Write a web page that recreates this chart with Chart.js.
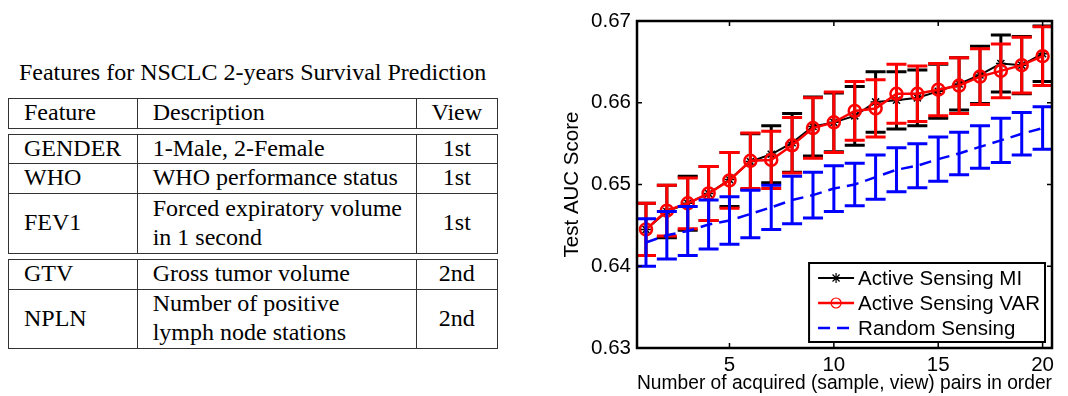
<!DOCTYPE html>
<html>
<head>
<meta charset="utf-8">
<script src="https://cdn.jsdelivr.net/npm/chart.js@4.4.1/dist/chart.umd.min.js"></script>
<style>
  body { margin: 0; background: #fff; width: 1068px; height: 396px; overflow: hidden; position: relative;
         font-family: "Liberation Serif", "Times New Roman", serif; color: #000; }
  #tblTitle { position: absolute; left: 8px; width: 489px; top: 58px; text-align: center; font-size: 24px; line-height: 29px; white-space: nowrap; }
  .cell { position: absolute; box-sizing: border-box; border: 1px solid #333; font-size: 24px; line-height: 29px;
          display: flex; align-items: center; padding: 0 0 2px 15px; white-space: nowrap; }
  .cell.view { justify-content: center; padding-left: 0; }
  #chartBox { position: absolute; left: 560px; top: 0; width: 508px; height: 396px; }
</style>
</head>
<body>
<div id="tblTitle">Features for NSCLC 2-years Survival Prediction</div>
<div id="tables"></div>
<div id="chartBox"><canvas id="c" width="508" height="396"></canvas></div>
<script>
// ---- table data ----
const headers = ['Feature', 'Description', 'View'];
const featureNames = ['GENDER', 'WHO', 'FEV1', 'GTV', 'NPLN'];
const descriptions = ['1-Male, 2-Female', 'WHO performance status', 'Forced expiratory volume<br>in 1 second',
                      'Gross tumor volume', 'Number of positive<br>lymph node stations'];
const views = ['1st', '1st', '1st', '2nd', '2nd'];

// ---- chart data ----
const xValues = [1, 2, 3, 4, 5, 6, 7, 8, 9, 10, 11, 12, 13, 14, 15, 16, 17, 18, 19, 20];
const miMean = [0.6445, 0.6467, 0.6477, 0.6489, 0.6506, 0.6528, 0.6537, 0.6551, 0.6571, 0.6576,
                0.6584, 0.6601, 0.6603, 0.6606, 0.6614, 0.6623, 0.6634, 0.6648, 0.6646, 0.6660];
const miErr = [0.0032, 0.0032, 0.0033, 0.0033, 0.0033, 0.0034, 0.0035, 0.0036, 0.0036, 0.0036,
               0.0036, 0.0037, 0.0035, 0.0034, 0.0033, 0.0032, 0.0035, 0.0035, 0.0035, 0.0034];
const varMean = [0.6445, 0.6468, 0.6477, 0.6489, 0.6505, 0.6529, 0.6530, 0.6548, 0.6569, 0.6576,
                 0.6590, 0.6593, 0.6611, 0.6611, 0.6616, 0.6621, 0.6632, 0.6639, 0.6646, 0.6657];
const varErr = [0.0032, 0.0031, 0.0031, 0.0033, 0.0034, 0.0034, 0.0035, 0.0034, 0.0037, 0.0037,
                0.0036, 0.0035, 0.0036, 0.0034, 0.0032, 0.0034, 0.0034, 0.0033, 0.0034, 0.0036];
const randMean = [0.6429, 0.6438, 0.6443, 0.6451, 0.6456, 0.6464, 0.6472, 0.6481, 0.6487, 0.6495,
                  0.6500, 0.6509, 0.6518, 0.6523, 0.6531, 0.6538, 0.6546, 0.6554, 0.6562, 0.6569];
const randErr = [0.0029, 0.0029, 0.0030, 0.0030, 0.0029, 0.0029, 0.0027, 0.0029, 0.0028, 0.0028,
                 0.0026, 0.0027, 0.0027, 0.0027, 0.0027, 0.0026, 0.0026, 0.0027, 0.0026, 0.0026];
const xTicks = [5, 10, 15, 20];
const yTicks = [0.63, 0.64, 0.65, 0.66, 0.67];

// ---- table (header block, then two ruled groups) ----
const colX = [8, 136.7, 415.7, 497];
const rowTop = [98.3, 134, 163.3, 193.3, 259, 289];
const rowH = [29.4, 29.3, 30, 59.4, 30, 59.3];
const rows = [headers].concat(featureNames.map((f, i) => [f, descriptions[i], views[i]]));
let html = '';
rows.forEach((r, ri) => {
  r.forEach((txt, ci) => {
    const l = colX[ci], w = colX[ci + 1] - colX[ci] + 1;
    html += `<div class="cell${ci === 2 ? ' view' : ''}" style="left:${l}px;top:${rowTop[ri]}px;width:${w}px;height:${rowH[ri] + 1}px"><span>${txt}</span></div>`;
  });
});
document.getElementById('tables').innerHTML = html;

// ---- chart ----
Chart.defaults.font.family = '"Liberation Sans", Arial, Helvetica, sans-serif';
Chart.defaults.font.size = 20.5;
Chart.defaults.color = '#000';

const toPoints = (ys) => xValues.map((x, i) => ({ x: x, y: ys[i] }));

// vertical error bars with caps, drawn just below each series
const errorBars = {
  id: 'errorBars',
  beforeDatasetDraw(chart, args) {
    const ds = chart.data.datasets[args.index];
    if (!ds.errors) return;
    const ctx = chart.ctx, xs = chart.scales.x, ys = chart.scales.y;
    ctx.save();
    ctx.strokeStyle = ds.borderColor;
    ctx.lineWidth = 3;
    ctx.setLineDash([]);
    ds.data.forEach((p, i) => {
      const px = xs.getPixelForValue(p.x);
      const hi = ys.getPixelForValue(p.y + ds.errors[i]);
      const lo = ys.getPixelForValue(p.y - ds.errors[i]);
      ctx.beginPath();
      ctx.moveTo(px, hi); ctx.lineTo(px, lo);
      ctx.moveTo(px - 10, hi); ctx.lineTo(px + 10, hi);
      ctx.moveTo(px - 10, lo); ctx.lineTo(px + 10, lo);
      ctx.stroke();
    });
    ctx.restore();
  }
};

// MATLAB-like box with inward ticks, plus boxed legend inside the plot
const frameAndLegend = {
  id: 'frameAndLegend',
  afterDraw(chart) {
    const ctx = chart.ctx, a = chart.chartArea, xs = chart.scales.x, ys = chart.scales.y;
    ctx.save();
    ctx.strokeStyle = '#000';
    ctx.lineWidth = 1.5;
    ctx.beginPath();
    xTicks.forEach(v => {
      const px = xs.getPixelForValue(v);
      ctx.moveTo(px, a.bottom); ctx.lineTo(px, a.bottom - 5);
      ctx.moveTo(px, a.top); ctx.lineTo(px, a.top + 5);
    });
    yTicks.forEach(v => {
      const py = ys.getPixelForValue(v);
      ctx.moveTo(a.left, py); ctx.lineTo(a.left + 5, py);
      ctx.moveTo(a.right, py); ctx.lineTo(a.right - 5, py);
    });
    ctx.stroke();
    ctx.lineWidth = 2.5;
    ctx.strokeRect(a.left, a.top, a.right - a.left, a.bottom - a.top);

    // legend
    const sets = chart.data.datasets;
    ctx.font = '20.5px "Liberation Sans", Arial, Helvetica, sans-serif';
    const tw = Math.max(...sets.map(d => ctx.measureText(d.label).width));
    const w = 9 + 36 + 5 + tw + 4, h = 3 * 25 + 4;
    const right = a.right - 7, bottom = a.bottom - 6;
    const left = right - w, top = bottom - h;
    ctx.fillStyle = '#fff';
    ctx.fillRect(left, top, w, h);
    ctx.lineWidth = 2;
    ctx.strokeStyle = '#000';
    ctx.strokeRect(left, top, w, h);
    sets.forEach((d, i) => {
      const cy = top + 15 + 25 * i;
      ctx.strokeStyle = d.borderColor;
      ctx.lineWidth = d.borderWidth;
      ctx.setLineDash(d.borderDash || []);
      ctx.beginPath();
      ctx.moveTo(left + 9, cy); ctx.lineTo(left + 45, cy);
      ctx.stroke();
      ctx.setLineDash([]);
      if (d.pointRadius > 0) {
        ctx.fillStyle = 'rgba(0,0,0,0)';
        ctx.lineWidth = d.legendPointWidth;
        Chart.helpers.drawPoint(ctx, { pointStyle: d.pointStyle, radius: d.legendRadius, borderWidth: d.legendPointWidth, rotation: 0 }, left + 27, cy);
      }
      ctx.fillStyle = '#000';
      ctx.textAlign = 'left';
      ctx.textBaseline = 'middle';
      ctx.fillText(d.label, left + 49, cy + 1);
    });
    ctx.restore();
  }
};

new Chart(document.getElementById('c'), {
  type: 'line',
  data: {
    datasets: [
      {
        label: 'Active Sensing MI',
        data: toPoints(miMean),
        errors: miErr,
        borderColor: '#000000',
        borderWidth: 2,
        pointStyle: 'star',
        pointRadius: 5,
        pointBorderWidth: 1.5,
        pointBorderColor: '#000000',
        pointBackgroundColor: '#000000',
        legendRadius: 5, legendPointWidth: 1.2,
        tension: 0,
        order: 3,
      },
      {
        label: 'Active Sensing VAR',
        data: toPoints(varMean),
        errors: varErr,
        borderColor: '#ff0000',
        borderWidth: 2.5,
        pointStyle: 'circle',
        pointRadius: 6,
        pointBorderWidth: 2.5,
        pointBorderColor: '#ff0000',
        pointBackgroundColor: 'rgba(0,0,0,0)',
        legendRadius: 5, legendPointWidth: 1.2,
        tension: 0,
        order: 2,
      },
      {
        label: 'Random Sensing',
        data: toPoints(randMean),
        errors: randErr,
        borderColor: '#0000ff',
        borderWidth: 2.5,
        borderDash: [12, 7],
        pointRadius: 0,
        tension: 0,
        order: 1,
      },
    ],
  },
  options: {
    responsive: false,
    animation: false,
    devicePixelRatio: 1,
    layout: { padding: { top: 21, right: 16, left: 0, bottom: 0 } },
    plugins: { legend: { display: false }, tooltip: { enabled: false } },
    scales: {
      x: {
        type: 'linear',
        min: 0.57,
        max: 20.45,
        grid: { display: false, drawTicks: false },
        border: { display: false },
        afterBuildTicks: (s) => { s.ticks = xTicks.map((v) => ({ value: v })); },
        afterFit: (s) => { s.height = 48; },
        ticks: { padding: 5 },
        title: { display: true, text: 'Number of acquired (sample, view) pairs in order', padding: 0 },
      },
      y: {
        type: 'linear',
        min: 0.63,
        max: 0.67,
        grid: { display: false, drawTicks: false },
        border: { display: false },
        afterBuildTicks: (s) => { s.ticks = yTicks.map((v) => ({ value: v })); },
        afterFit: (s) => { s.width = 77; },
        ticks: { padding: 6, callback: (v) => Number(v).toFixed(2) },
        title: { display: true, text: 'Test AUC Score', padding: 0 },
      },
    },
  },
  plugins: [errorBars, frameAndLegend],
});
</script>
</body>
</html>
